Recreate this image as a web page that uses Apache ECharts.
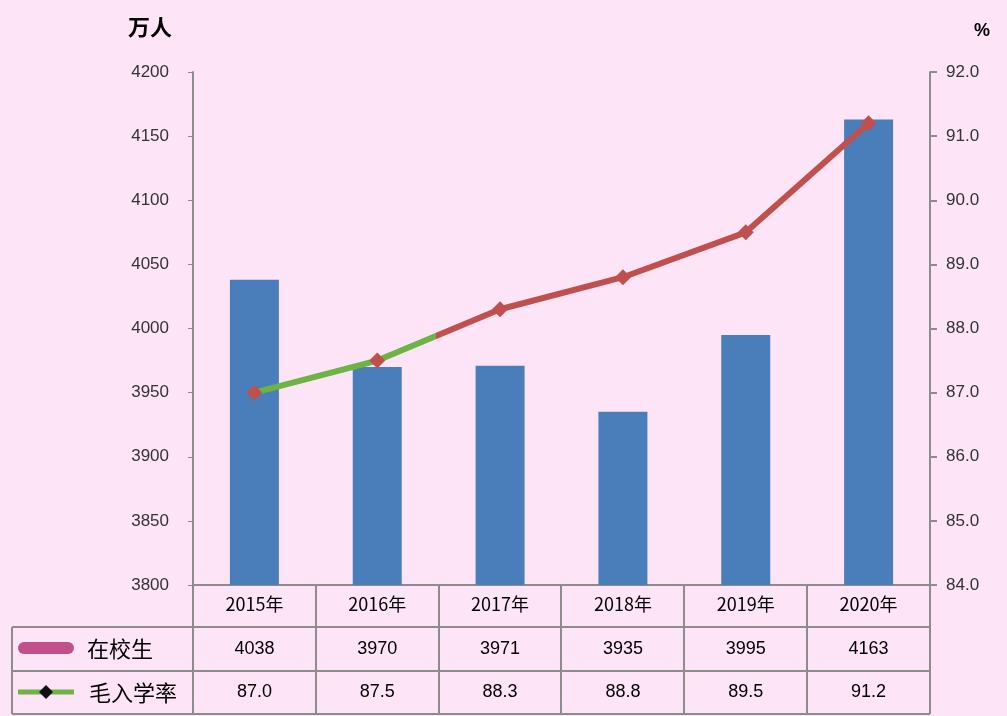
<!DOCTYPE html>
<html><head><meta charset="utf-8">
<script src="https://cdn.jsdelivr.net/npm/echarts@6/dist/echarts.min.js"></script>
<style>html,body{margin:0;padding:0;background:#fde4f6;}#c{width:1007px;height:716px;}</style>
</head><body><div id="c"></div>
<script>
const categories = ['2015年','2016年','2017年','2018年','2019年','2020年'];
const students = [4038, 3970, 3971, 3935, 3995, 4163];
const grossRate = [87.0, 87.5, 88.3, 88.8, 89.5, 91.2];
const studentLabel = '在校生';
const rateLabel = '毛入学率';

const chart = echarts.init(document.getElementById('c'));
const axisGray = '#8c8c8c';
const font = '"Liberation Sans", Arial, sans-serif';
const cjk = '"Noto Sans CJK SC", sans-serif';
const red = '#c0504d', green = '#6cb444';
chart.setOption({
  backgroundColor: '#fde4f6',
  animation: false,
  grid: {left: 193, right: 77, top: 72, bottom: 131},
  xAxis: {
    type: 'category', data: categories,
    axisLine: {lineStyle: {color: axisGray, width: 2}},
    axisTick: {show: false},
    axisLabel: {color: '#000', fontSize: 18, fontFamily: cjk, margin: 10}
  },
  yAxis: [{
    type: 'value', min: 3800, max: 4200, interval: 50,
    name: '万人', nameLocation: 'end', nameGap: 34,
    nameTextStyle: {color: '#000', fontSize: 22, fontWeight: 'bold', fontFamily: cjk, align: 'right', padding: [0, 21, 0, 0]},
    axisLine: {show: true, lineStyle: {color: axisGray, width: 2}},
    axisTick: {show: true, length: 5, lineStyle: {color: axisGray}},
    splitLine: {show: false},
    axisLabel: {color: '#333', fontSize: 17, fontFamily: font, margin: 24, formatter: v => String(v)}
  }, {
    type: 'value', min: 84, max: 92, interval: 1,
    name: '%', nameLocation: 'end', nameGap: 32,
    nameTextStyle: {color: '#000', fontSize: 18, fontWeight: 'bold', fontFamily: font, align: 'left', padding: [0, 0, 0, 44]},
    axisLine: {show: true, lineStyle: {color: axisGray, width: 2}},
    axisTick: {show: true, length: 7, lineStyle: {color: axisGray, width: 2}},
    splitLine: {show: false},
    axisLabel: {color: '#333', fontSize: 17, fontFamily: font, margin: 16, formatter: v => v.toFixed(1)}
  }],
  series: [{
    name: studentLabel, type: 'bar', data: students, barWidth: 49,
    itemStyle: {color: '#4a7ebb'}
  }, {
    name: rateLabel, type: 'line', yAxisIndex: 1, data: grossRate,
    symbol: 'diamond', symbolSize: 16, z: 5,
    lineStyle: {width: 6, color: new echarts.graphic.LinearGradient(0, 0, 1, 0, [
      {offset: 0, color: green}, {offset: 0.297, color: green},
      {offset: 0.297, color: red}, {offset: 1, color: red}])},
    itemStyle: {color: red}
  }]
});

function buildTable() {
  const g = [];
  const lc = '#8c8c8c';
  const yTop = 585, y1 = 627, y2 = 671, y3 = 714;
  const xs = [193, 316, 439, 561, 684, 807, 930];
  const line = (x1, ya, x2, yb) => g.push({type: 'line', shape: {x1, y1: ya, x2, y2: yb}, style: {stroke: lc, lineWidth: 2}, z: 10});
  xs.forEach(x => line(x, yTop, x, y3));
  line(12, y1, 930, y1);
  line(12, y2, 930, y2);
  line(12, y3, 930, y3);
  line(12, y1, 12, y3);
  categories.forEach((c, i) => {
    const cx = chart.convertToPixel({xAxisIndex: 0}, c);
    g.push({type: 'text', x: cx, y: (y1 + y2) / 2, style: {text: String(students[i]), fill: '#000', font: '18px ' + font, textAlign: 'center', textVerticalAlign: 'middle'}, z: 11});
    g.push({type: 'text', x: cx, y: (y2 + y3) / 2, style: {text: grossRate[i].toFixed(1), fill: '#000', font: '18px ' + font, textAlign: 'center', textVerticalAlign: 'middle'}, z: 11});
  });
  g.push({type: 'rect', shape: {x: 18, y: 642, width: 56, height: 12, r: 6}, style: {fill: '#c0508a'}, z: 11});
  g.push({type: 'text', x: 120, y: (y1 + y2) / 2, style: {text: studentLabel, fill: '#000', font: '22px ' + cjk, textAlign: 'center', textVerticalAlign: 'middle'}, z: 11});
  g.push({type: 'line', shape: {x1: 18, y1: 692, x2: 74, y2: 692}, style: {stroke: green, lineWidth: 5}, z: 11});
  g.push({type: 'polygon', shape: {points: [[46, 685], [53, 692], [46, 699], [39, 692]]}, style: {fill: '#111'}, z: 12});
  g.push({type: 'text', x: 133, y: (y2 + y3) / 2, style: {text: rateLabel, fill: '#000', font: '22px ' + cjk, textAlign: 'center', textVerticalAlign: 'middle'}, z: 11});
  chart.setOption({graphic: g});
}
buildTable();
</script></body></html>
